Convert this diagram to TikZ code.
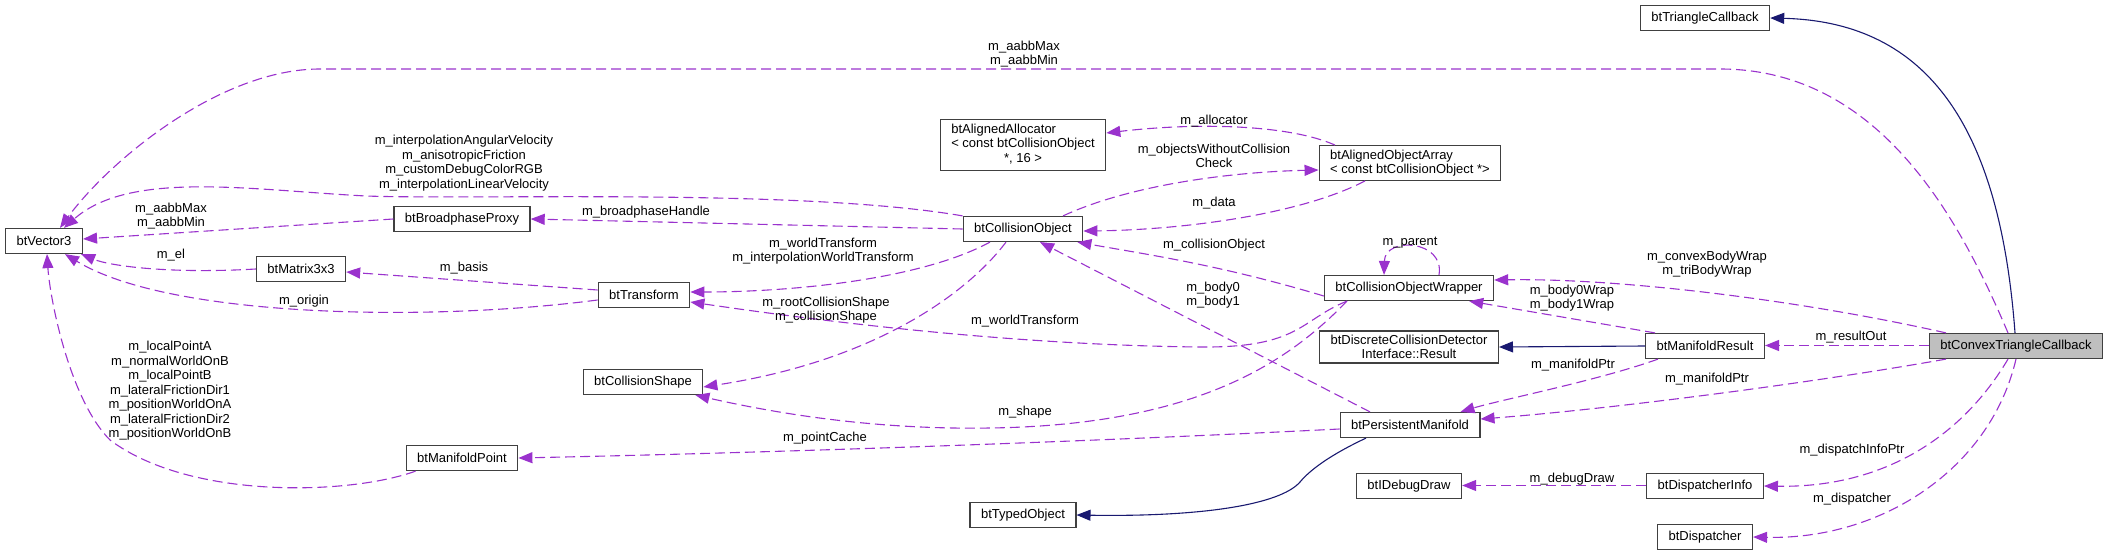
\documentclass[tikz,border=0pt]{standalone}
\usepackage{fontspec}
\setmainfont{Liberation Sans}
\usepackage{tikz}
\usetikzlibrary{arrows.meta, positioning}
\definecolor{member}{HTML}{9a32cd}
\definecolor{inherit}{HTML}{191970}
\definecolor{boxline}{HTML}{404040}
\definecolor{focus}{HTML}{bfbfbf}

\begin{document}
\begin{tikzpicture}[
  x=1pt, y=-1pt,
  font=\fontsize{13}{14.5}\selectfont,
  every node/.style={align=center},
  cls/.style={rectangle, draw=boxline, fill=white, line width=1.2pt,
    inner xsep=11pt, inner ysep=4pt, minimum height=25pt},
  lbl/.style={inner sep=0pt, text=black},
  uses/.style={-{Triangle[length=14pt,width=11pt]}, line width=1.1pt, color=member,
    dash pattern=on 10pt off 5pt},
  isa/.style={-{Triangle[length=14pt,width=11pt]}, line width=1.1pt, color=inherit},
]
  \useasboundingbox (0,0) rectangle (2109,556);

  \node[cls] (tricb) at (1705,18) {btTriangleCallback};
  \node[cls] (vec3) at (44,241) {btVector3};
  \node[cls] (bproxy) at (462,219) {btBroadphaseProxy};
  \node[cls] (mat3) at (301,269) {btMatrix3x3};
  \node[cls] (xform) at (644,295) {btTransform};
  \node[cls] (cshape) at (643,382) {btCollisionShape};
  \node[cls] (mpoint) at (462,458) {btManifoldPoint};
  \node[cls] (typed) at (1023,515) {btTypedObject};
  \node[cls] (cobj) at (1023,229) {btCollisionObject};
  \node[cls] (alloc) at (1023,145) {\begin{tabular}{@{}l@{}}btAlignedAllocator\\< const btCollisionObject\\\multicolumn{1}{@{}c@{}}{*, 16 >}\end{tabular}};
  \node[cls, align=left] (objarr) at (1410,163) {btAlignedObjectArray\\< const btCollisionObject *>};
  \node[cls] (wrap) at (1409,288) {btCollisionObjectWrapper};
  \node[cls] (dcdi) at (1409,347) {btDiscreteCollisionDetector\\Interface::Result};
  \node[cls] (mres) at (1705,346) {btManifoldResult};
  \node[cls] (pman) at (1410,425) {btPersistentManifold};
  \node[cls] (ddraw) at (1409,486) {btIDebugDraw};
  \node[cls] (dinfo) at (1705,486) {btDispatcherInfo};
  \node[cls] (disp) at (1705,537) {btDispatcher};
  \node[cls, fill=focus] (cvx) at (2016,346) {btConvexTriangleCallback};

  \draw[isa] ([xshift=-1pt]cvx.north) .. controls (2000,130) and (1930,22) .. (tricb.east);
  \draw[uses] ([xshift=-8pt]cvx.north) .. controls (1960,220) and (1880,69) .. (1720,69)
    -- (320,69) .. controls (220,69) and (110,160) .. ([xshift=16pt]vec3.north)
    node[lbl] at (1024,54) {m\_aabbMax\\m\_aabbMin};
  \draw[uses] (cobj.north west) .. controls (800,188) and (480,200) .. (366,196)
    .. controls (250,190) and (130,170) .. ([xshift=20pt]vec3.north)
    node[lbl] at (464,163) {m\_interpolationAngularVelocity\\m\_anisotropicFriction\\m\_customDebugColorRGB\\m\_interpolationLinearVelocity};
  \draw[uses] (bproxy.west) -- ([yshift=2pt]vec3.east)
    node[lbl] at (171,216) {m\_aabbMax\\m\_aabbMin};
  \draw[uses] (mat3.west) .. controls (170,274) and (110,266) .. ([xshift=-2pt]vec3.south east)
    node[lbl] at (171,255) {m\_el};
  \draw[uses] ([yshift=-5pt]xform.west) .. controls (430,322) and (170,318) .. ([xshift=21pt]vec3.south)
    node[lbl] at (304,301) {m\_origin};
  \draw[uses] ([xshift=10pt]mpoint.south west) .. controls (350,495) and (190,500) .. (110,440)
    .. controls (70,400) and (50,300) .. ([xshift=3pt]vec3.south)
    node[lbl] at (170,391) {m\_localPointA\\m\_normalWorldOnB\\m\_localPointB\\m\_lateralFrictionDir1\\m\_positionWorldOnA\\m\_lateralFrictionDir2\\m\_positionWorldOnB};
  \draw[uses] ([yshift=5pt]xform.west) -- ([yshift=-3pt]mat3.east)
    node[lbl] at (464,268) {m\_basis};
  \draw[uses] (cobj.west) -- (bproxy.east)
    node[lbl] at (646,212) {m\_broadphaseHandle};
  \draw[uses] ([xshift=-33pt]cobj.south) .. controls (920,280) and (790,292) .. ([yshift=3pt]xform.east)
    node[lbl] at (823,251) {m\_worldTransform\\m\_interpolationWorldTransform};
  \draw[uses] ([xshift=-62pt]wrap.south) .. controls (1300,320) and (1300,348) .. (1200,347)
    .. controls (1000,345) and (800,318) .. ([yshift=-7pt]xform.east)
    node[lbl] at (1025,321) {m\_worldTransform};
  \draw[uses] ([xshift=-17pt]cobj.south) .. controls (970,290) and (880,360) .. ([yshift=-5pt]cshape.east)
    node[lbl] at (826,310) {m\_rootCollisionShape\\m\_collisionShape};
  \draw[uses] ([xshift=-62pt]wrap.south) .. controls (1290,360) and (1200,425) .. (990,428)
    .. controls (870,430) and (770,412) .. ([xshift=-8pt]cshape.south east)
    node[lbl] at (1025,412) {m\_shape};
  \draw[uses] ([xshift=-40pt]pman.north) -- ([xshift=17pt]cobj.south)
    node[lbl] at (1213,295) {m\_body0\\m\_body1};
  \draw[uses] ([yshift=-8pt]wrap.west) .. controls (1220,265) and (1150,255) .. ([xshift=-6pt]cobj.south east)
    node[lbl] at (1214,245) {m\_collisionObject};
  \draw[uses] ([xshift=-45pt]objarr.south) .. controls (1300,215) and (1180,230) .. ([yshift=-2pt]cobj.east)
    node[lbl] at (1214,203) {m\_data};
  \draw[uses] ([xshift=40pt]cobj.north) .. controls (1130,185) and (1230,172) .. ([yshift=-7pt]objarr.west)
    node[lbl] at (1214,156) {m\_objectsWithoutCollision\\Check};
  \draw[uses] ([xshift=-75pt]objarr.north) .. controls (1290,125) and (1200,122) .. ([yshift=12pt]alloc.east)
    node[lbl] at (1214,121) {m\_allocator};
  \draw[uses] ([xshift=30pt]wrap.north) .. controls (1445,240) and (1385,236) .. ([xshift=-25pt]wrap.north)
    node[lbl] at (1410,243) {m\_parent};
  \draw[uses] ([xshift=-70pt]cvx.north) .. controls (1800,300) and (1620,278) .. ([yshift=8pt]wrap.east)
    node[lbl] at (1707,264) {m\_convexBodyWrap\\m\_triBodyWrap};
  \draw[uses] ([xshift=-50pt]mres.north) -- ([xshift=-25pt]wrap.south east)
    node[lbl] at (1572,298) {m\_body0Wrap\\m\_body1Wrap};
  \draw[isa] (mres.west) -- (dcdi.east);
  \draw[uses] ([yshift=0.5pt]cvx.west) -- ([yshift=0.5pt]mres.east)
    node[lbl] at (1851,337) {m\_resultOut};
  \draw[uses] ([xshift=-47pt]mres.south) .. controls (1600,380) and (1500,400) .. ([xshift=-20pt]pman.north east)
    node[lbl] at (1573,365) {m\_manifoldPtr};
  \draw[uses] ([xshift=-70pt]cvx.south) .. controls (1800,385) and (1600,410) .. ([yshift=6pt]pman.east)
    node[lbl] at (1707,379) {m\_manifoldPtr};
  \draw[uses] ([xshift=-8pt]cvx.south) .. controls (1960,440) and (1880,488) .. (dinfo.east)
    node[lbl] at (1852,450) {m\_dispatchInfoPtr};
  \draw[uses] (cvx.south) .. controls (1990,470) and (1880,540) .. (disp.east)
    node[lbl] at (1852,499) {m\_dispatcher};
  \draw[uses] ([yshift=0.5pt]dinfo.west) -- ([yshift=0.5pt]ddraw.east)
    node[lbl] at (1572,479) {m\_debugDraw};
  \draw[uses] ([yshift=-4pt]pman.west) .. controls (1100,441) and (800,452) .. (mpoint.east)
    node[lbl] at (825,438) {m\_pointCache};
  \draw[isa] ([xshift=-44pt]pman.south) .. controls (1330,455) and (1310,470) .. (1300,482)
    .. controls (1280,505) and (1200,517) .. (typed.east);
\end{tikzpicture}
\end{document}
